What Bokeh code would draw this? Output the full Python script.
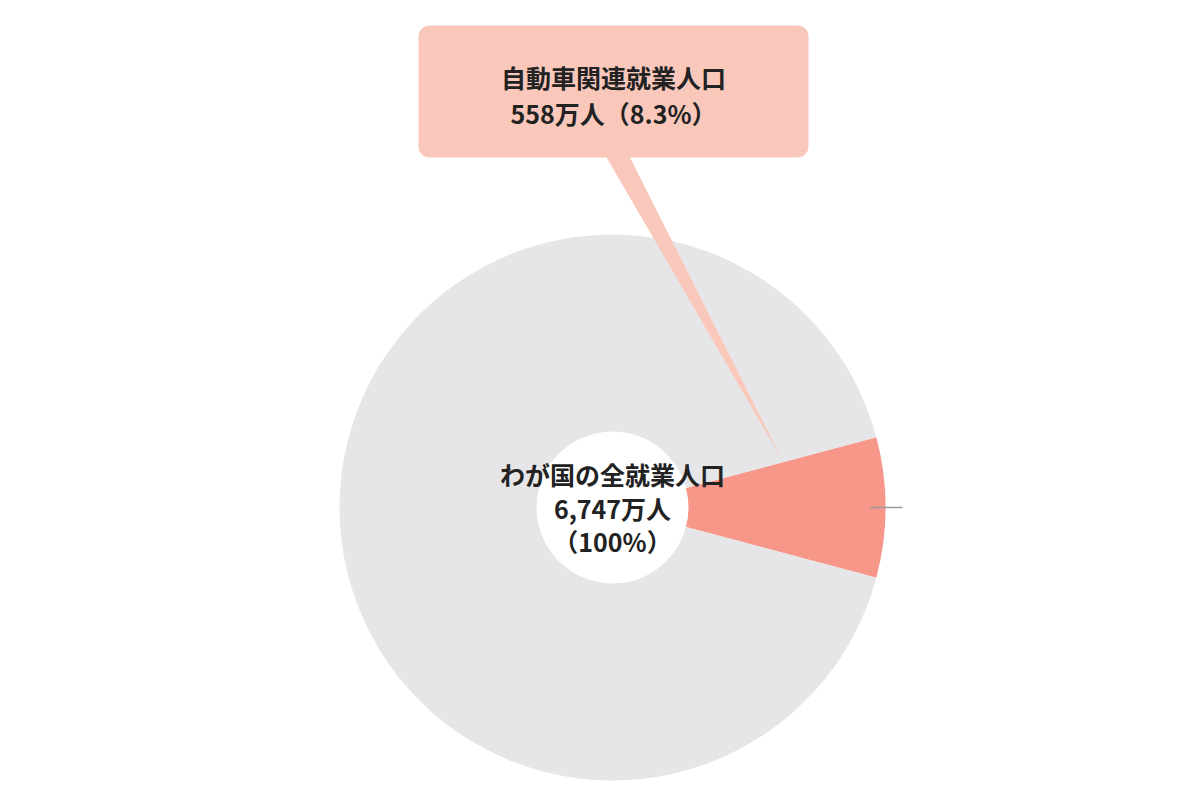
import math

from bokeh.core.properties import value
from bokeh.embed import file_html
from bokeh.models import BoxAnnotation, ColumnDataSource, Range1d
from bokeh.plotting import figure
from bokeh.resources import INLINE

# data
categories = ["自動車関連就業人口", "その他"]
counts = [558, 6747 - 558]          # 万人
colors = ["#f6978a", "#e6e6e9"]
total_label = ["わが国の全就業人口", "6,747万人", "（100%）"]
callout_label = ["自動車関連就業人口", "558万人（8.3%）"]

FONT = "Noto Sans CJK JP"
CX, CY = 612, 507
R_IN, R_OUT = 76, 273

total = sum(counts)
share = counts[0] / total
start = -share * math.pi
angles = [start]
for c in counts:
    angles.append(angles[-1] + c / total * 2 * math.pi)

source = ColumnDataSource(data=dict(
    cat=categories,
    start=angles[:-1],
    end=angles[1:],
    color=colors,
))

p = figure(width=1184, height=783, output_backend="svg", toolbar_location=None,
           x_range=Range1d(0, 1184), y_range=Range1d(783, 0),
           min_border=0, outline_line_color=None)
p.axis.visible = False
p.grid.visible = False
p.background_fill_color = "white"
p.border_fill_color = "white"

p.annular_wedge(x=CX, y=CY, inner_radius=R_IN, outer_radius=R_OUT,
                start_angle="start", end_angle="end", color="color",
                line_color=None, source=source)

# small tick at the outer edge of the highlighted slice
p.segment(x0=[870], y0=[CY], x1=[902], y1=[CY], line_color="#9a9a9a", line_width=1.5)

# callout pointer + box
box_fill = "#f9c8bb"
p.patch(x=[602, 626, 781], y=[150, 150, 458], fill_color=box_fill, line_color=None)
p.add_layout(BoxAnnotation(left=418, right=808, top=25, bottom=157, border_radius=11,
                           fill_color=box_fill, fill_alpha=1, line_color=None,
                           level="underlay"))

p.text(x=[613, 613], y=[76, 112], text=callout_label, text_align="center",
       text_baseline="middle", text_font=value(FONT), text_font_style="bold",
       text_font_size="25px", text_color="#222222")

p.text(x=[612, 612, 612], y=[473, 507, 540], text=total_label, text_align="center",
       text_baseline="middle", text_font=value(FONT), text_font_style="bold",
       text_font_size="25px", text_color="#222222")

open("out.html", "w").write(file_html(p, INLINE))
